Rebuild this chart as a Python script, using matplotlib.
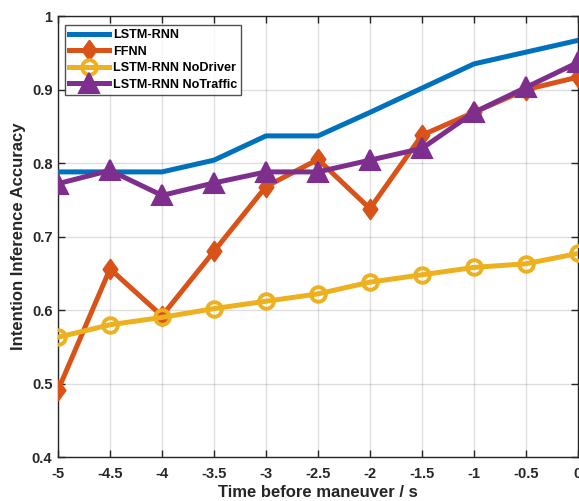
import matplotlib
matplotlib.use("Agg")
import matplotlib.pyplot as plt
from matplotlib.path import Path

time_s = [-5, -4.5, -4, -3.5, -3, -2.5, -2, -1.5, -1, -0.5, 0]
lstm_rnn = [0.788, 0.788, 0.788, 0.804, 0.837, 0.837, 0.869, 0.902, 0.935, 0.951, 0.967]
ffnn = [0.491, 0.656, 0.592, 0.680, 0.768, 0.805, 0.738, 0.838, 0.869, 0.900, 0.917]
no_driver = [0.563, 0.580, 0.590, 0.602, 0.612, 0.622, 0.638, 0.648, 0.658, 0.663, 0.677]
no_traffic = [0.772, 0.790, 0.756, 0.773, 0.788, 0.788, 0.804, 0.820, 0.869, 0.903, 0.937]

x_ticks = [-5, -4.5, -4, -3.5, -3, -2.5, -2, -1.5, -1, -0.5, 0]
x_tick_labels = ["-5", "-4.5", "-4", "-3.5", "-3", "-2.5", "-2", "-1.5", "-1", "-0.5", "0"]
y_ticks = [0.4, 0.5, 0.6, 0.7, 0.8, 0.9, 1.0]
y_tick_labels = ["0.4", "0.5", "0.6", "0.7", "0.8", "0.9", "1"]

plt.rcParams["font.family"] = ["Liberation Sans", "DejaVu Sans"]
plt.rcParams["font.weight"] = "bold"

# MATLAB-style diamond: taller than it is wide
diamond = Path([(0, 1), (0.72, 0), (0, -1), (-0.72, 0), (0, 1)],
               [Path.MOVETO, Path.LINETO, Path.LINETO, Path.LINETO, Path.CLOSEPOLY])

fig = plt.figure(figsize=(5.79, 5.01), dpi=100)
ax = fig.add_axes([0.1002, 0.0878, 0.898, 0.880])

lw = 3.6
ax.plot(time_s, lstm_rnn, color="#0072BD", lw=lw, label="LSTM-RNN", zorder=3)
ax.plot(time_s, ffnn, color="#D95319", lw=lw, marker=diamond, ms=14,
        mfc="#D95319", mec="#D95319", mew=1.5, label="FFNN", zorder=4)
ax.plot(time_s, no_driver, color="#EDB120", lw=lw, marker="o", ms=10.5,
        mfc="none", mec="#EDB120", mew=2.8, label="LSTM-RNN NoDriver", zorder=4)
ax.plot(time_s, no_traffic, color="#7E2F8E", lw=lw, marker="^", ms=14,
        mfc="#7E2F8E", mec="#7E2F8E", mew=1.5, label="LSTM-RNN NoTraffic", zorder=5)

ax.set_xlim(-5, 0)
ax.set_ylim(0.4, 1.0)
ax.set_xticks(x_ticks)
ax.set_xticklabels(x_tick_labels)
ax.set_yticks(y_ticks)
ax.set_yticklabels(y_tick_labels)
ax.tick_params(direction="in", top=True, right=True, length=5, width=1,
               labelsize=10.5, colors="#262626")
ax.tick_params(axis="x", pad=7)
ax.tick_params(axis="y", pad=4)
for lab in ax.get_xticklabels() + ax.get_yticklabels():
    lab.set_fontweight("bold")
ax.grid(True, color="#262626", alpha=0.15, lw=1)
ax.set_axisbelow(True)
for sp in ax.spines.values():
    sp.set_color("#262626")
    sp.set_linewidth(1)

ax.set_xlabel("Time before maneuver / s", fontsize=12, fontweight="bold",
              color="#262626", labelpad=3)
ax.set_ylabel("Intention Inference Accuracy", fontsize=12, fontweight="bold",
              color="#262626", labelpad=4)

leg = ax.legend(loc="upper left", bbox_to_anchor=(0.013, 0.979), fontsize=9.1,
                frameon=True, fancybox=False, edgecolor="#262626",
                handlelength=3.2, borderpad=0.3, labelspacing=0.36,
                handletextpad=0.3, borderaxespad=0)
leg.get_frame().set_linewidth(1)
for t in leg.get_texts():
    t.set_fontweight("bold")

fig.savefig("out.png", dpi=100)
